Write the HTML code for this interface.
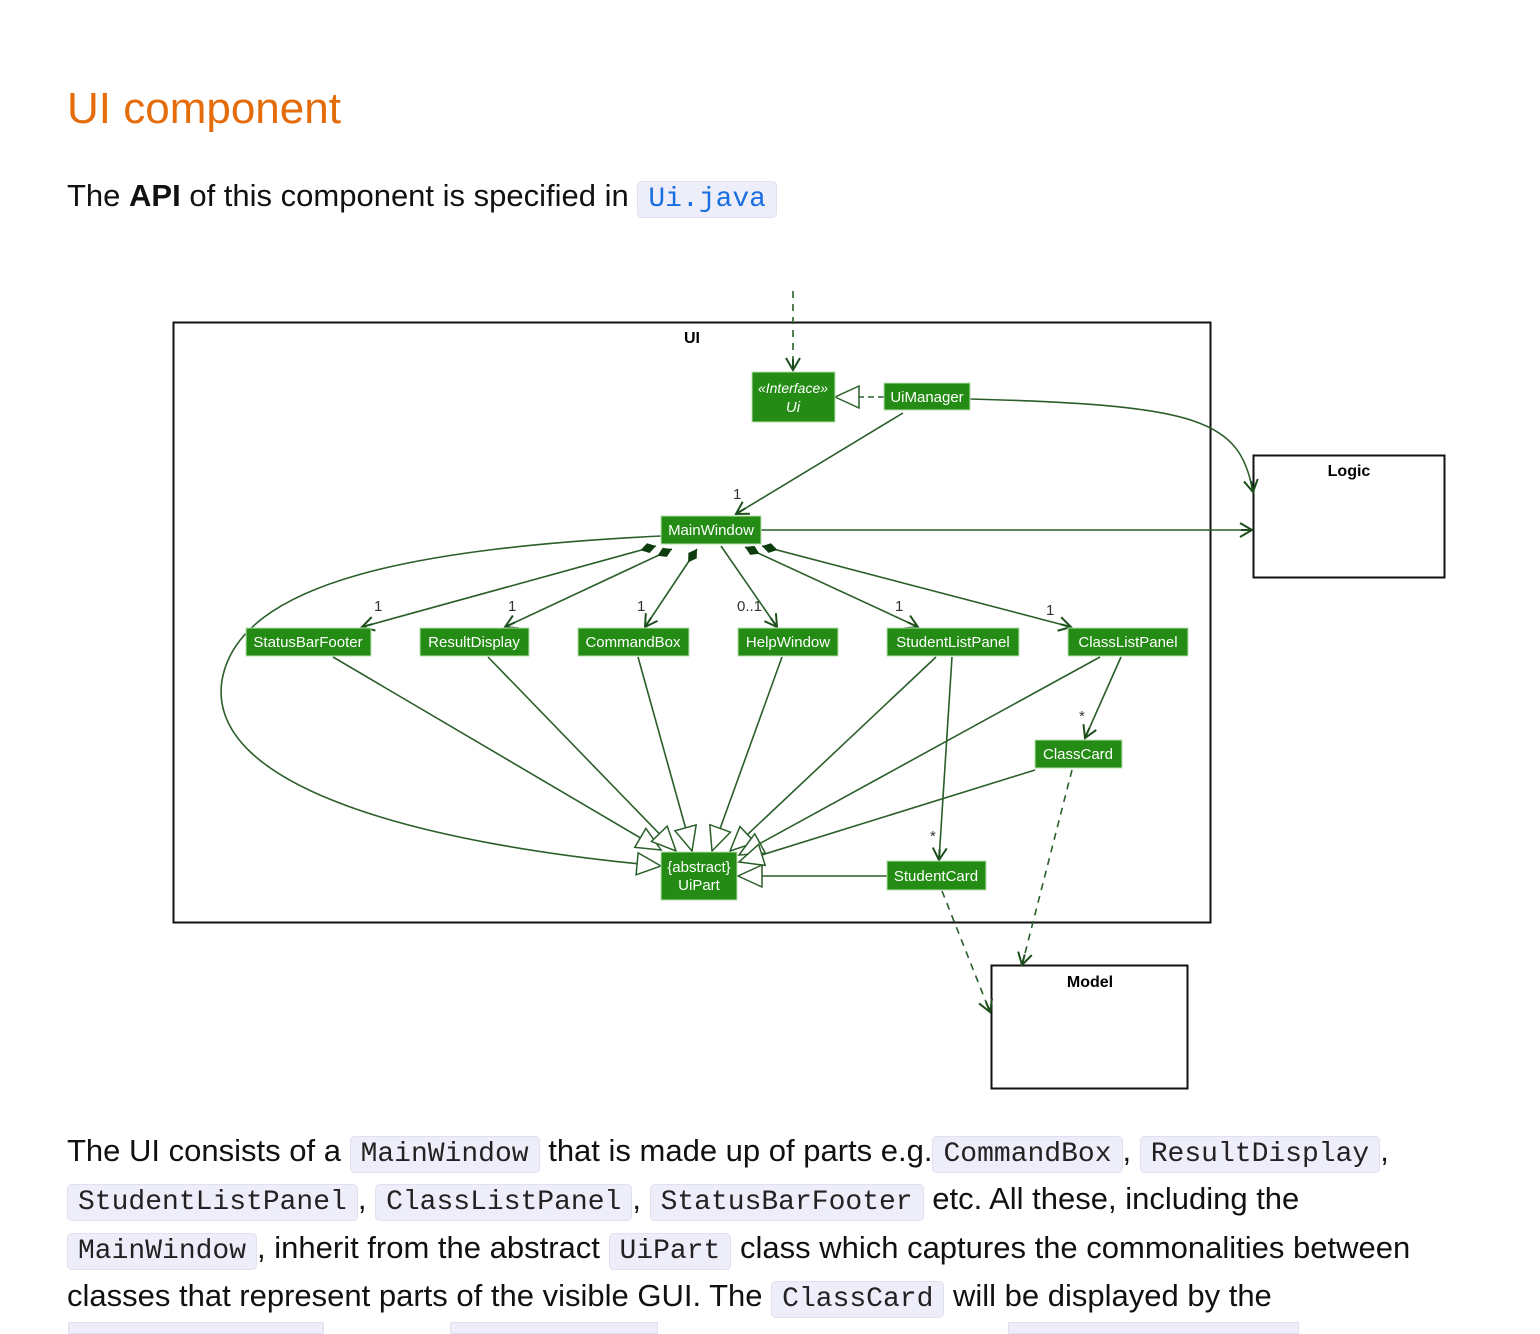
<!DOCTYPE html>
<html><head><meta charset="utf-8"><style>
body{margin:0;width:1540px;height:1328px;background:#fff;overflow:hidden;position:relative;font-family:"Liberation Sans",sans-serif;}
h2{position:absolute;left:67px;top:84px;margin:0;font-size:44px;font-weight:normal;color:#e46c0a;}
.t{position:absolute;left:67px;font-size:31px;color:#111;white-space:nowrap;line-height:40px;}
code{font-family:"Liberation Mono",monospace;font-size:28px;background:#eeeefa;border:1px solid #e0e0ee;border-radius:5px;padding:2px 10px;color:#222;}
svg{position:absolute;left:0;top:0;}
</style></head><body>
<h2>UI component</h2>
<div class="t" style="top:176px">The <b>API</b> of this component is specified in <code style="color:#1a6fe0">Ui.java</code></div>
<svg width="1540" height="1328" font-family="Liberation Sans, sans-serif">
<defs>
<marker id="gen" markerUnits="userSpaceOnUse" markerWidth="40" markerHeight="40" refX="32" refY="20" orient="auto"><path d="M32,20 L8,9 L8,31 Z" fill="#fff" stroke="#2a5e2a" stroke-width="1.5"/></marker>
<marker id="arr" markerUnits="userSpaceOnUse" markerWidth="20" markerHeight="20" refX="14" refY="10" orient="auto"><path d="M2,3 L14,10 L2,17 M14,10 L3,10" fill="none" stroke="#1d4f1d" stroke-width="2"/></marker>
<marker id="dia" markerUnits="userSpaceOnUse" markerWidth="30" markerHeight="20" refX="2" refY="10" orient="auto"><path d="M2,10 L10,5 L18,10 L10,15 Z" fill="#0d3d0d"/></marker>
</defs>
<rect x="173.5" y="322.5" width="1037" height="600" fill="none" stroke="#111" stroke-width="2"/>
<text x="692" y="343" font-size="16" font-weight="bold" text-anchor="middle">UI</text>
<rect x="1253.5" y="455.5" width="191" height="122" fill="none" stroke="#111" stroke-width="2"/>
<text x="1349" y="476" font-size="16" font-weight="bold" text-anchor="middle">Logic</text>
<rect x="991.5" y="965.5" width="196" height="123" fill="none" stroke="#111" stroke-width="2"/>
<text x="1090" y="987" font-size="16" font-weight="bold" text-anchor="middle">Model</text>
<g fill="none" stroke="#2a5e2a" stroke-width="1.6">
<path d="M793,291 L793,370" stroke-dasharray="7,6" marker-end="url(#arr)"/>
<path d="M884,397 L835,397" stroke-dasharray="6,4" marker-end="url(#gen)"/>
<path d="M970,399 C1200,405 1240,420 1253,492" marker-end="url(#arr)"/>
<path d="M903,413 L736,514" marker-end="url(#arr)"/>
<path d="M761,530 L1252,530" marker-end="url(#arr)"/>
<path d="M656,546 L362,627" marker-start="url(#dia)" marker-end="url(#arr)"/>
<path d="M672,549 L505,627" marker-start="url(#dia)" marker-end="url(#arr)"/>
<path d="M697,549 L645,627" marker-start="url(#dia)" marker-end="url(#arr)"/>
<path d="M721,546 L777,627" marker-end="url(#arr)"/>
<path d="M745,547 L918,627" marker-start="url(#dia)" marker-end="url(#arr)"/>
<path d="M762,546 L1071,627" marker-start="url(#dia)" marker-end="url(#arr)"/>
<path d="M1121,657 L1085,738" marker-end="url(#arr)"/>
<path d="M952,657 L939,860" marker-end="url(#arr)"/>
<path d="M1072,770 L1022,965" stroke-dasharray="7,6" marker-end="url(#arr)"/>
<path d="M942,891 L990,1012" stroke-dasharray="7,6" marker-end="url(#arr)"/>
<path d="M333,657 L661,850" marker-end="url(#gen)"/>
<path d="M488,657 L676,851" marker-end="url(#gen)"/>
<path d="M638,657 L692,851" marker-end="url(#gen)"/>
<path d="M782,657 L712,851" marker-end="url(#gen)"/>
<path d="M936,657 L730,851" marker-end="url(#gen)"/>
<path d="M1100,657 L739,855" marker-end="url(#gen)"/>
<path d="M1035,770 L739,862" marker-end="url(#gen)"/>
<path d="M887,876 L738,876" marker-end="url(#gen)"/>
<path d="M661,536 C420,548 240,580 222,680 C205,790 430,845 661,866" marker-end="url(#gen)"/>
</g>
<g fill="#248c14" stroke="#b8e0b0" stroke-width="1">
<rect x="752" y="372" width="83" height="50"/>
<rect x="884" y="383" width="86" height="27"/>
<rect x="661" y="516" width="100" height="28"/>
<rect x="246" y="628" width="125" height="28"/>
<rect x="420" y="628" width="109" height="28"/>
<rect x="578" y="628" width="111" height="28"/>
<rect x="738" y="628" width="100" height="28"/>
<rect x="887" y="628" width="132" height="28"/>
<rect x="1068" y="628" width="120" height="28"/>
<rect x="1035" y="740" width="87" height="28"/>
<rect x="661" y="852" width="76" height="48"/>
<rect x="887" y="861" width="99" height="29"/>
</g>
<g fill="#fff" font-size="15" text-anchor="middle">
<text x="793" y="393" font-style="italic" font-size="14">«Interface»</text>
<text x="793" y="412" font-style="italic">Ui</text>
<text x="927" y="402">UiManager</text>
<text x="711" y="535">MainWindow</text>
<text x="308" y="647">StatusBarFooter</text>
<text x="474" y="647">ResultDisplay</text>
<text x="633" y="647">CommandBox</text>
<text x="788" y="647">HelpWindow</text>
<text x="953" y="647">StudentListPanel</text>
<text x="1128" y="647">ClassListPanel</text>
<text x="1078" y="759">ClassCard</text>
<text x="699" y="872">{abstract}</text>
<text x="699" y="890">UiPart</text>
<text x="936" y="881">StudentCard</text>
</g>
<g fill="#333" font-size="15">
<text x="733" y="499">1</text>
<text x="374" y="611">1</text>
<text x="508" y="611">1</text>
<text x="637" y="611">1</text>
<text x="737" y="611">0..1</text>
<text x="895" y="611">1</text>
<text x="1046" y="615">1</text>
<text x="1079" y="721">*</text>
<text x="930" y="841">*</text>
</g>
</svg>
<div class="t" style="top:1131px">The UI consists of a <code>MainWindow</code> that is made up of parts e.g.<code>CommandBox</code>, <code>ResultDisplay</code>,</div>
<div class="t" style="top:1179px"><code>StudentListPanel</code>, <code>ClassListPanel</code>, <code>StatusBarFooter</code> etc. All these, including the</div>
<div class="t" style="top:1228px"><code>MainWindow</code>, inherit from the abstract <code>UiPart</code> class which captures the commonalities between</div>
<div class="t" style="top:1276px">classes that represent parts of the visible GUI. The <code>ClassCard</code> will be displayed by the</div>
<div style="position:absolute;left:68px;top:1322px;width:254px;height:10px;background:#eeeefa;border:1px solid #e0e0ee"></div>
<div style="position:absolute;left:450px;top:1322px;width:206px;height:10px;background:#eeeefa;border:1px solid #e0e0ee"></div>
<div style="position:absolute;left:1008px;top:1322px;width:289px;height:10px;background:#eeeefa;border:1px solid #e0e0ee"></div>
</body></html>
